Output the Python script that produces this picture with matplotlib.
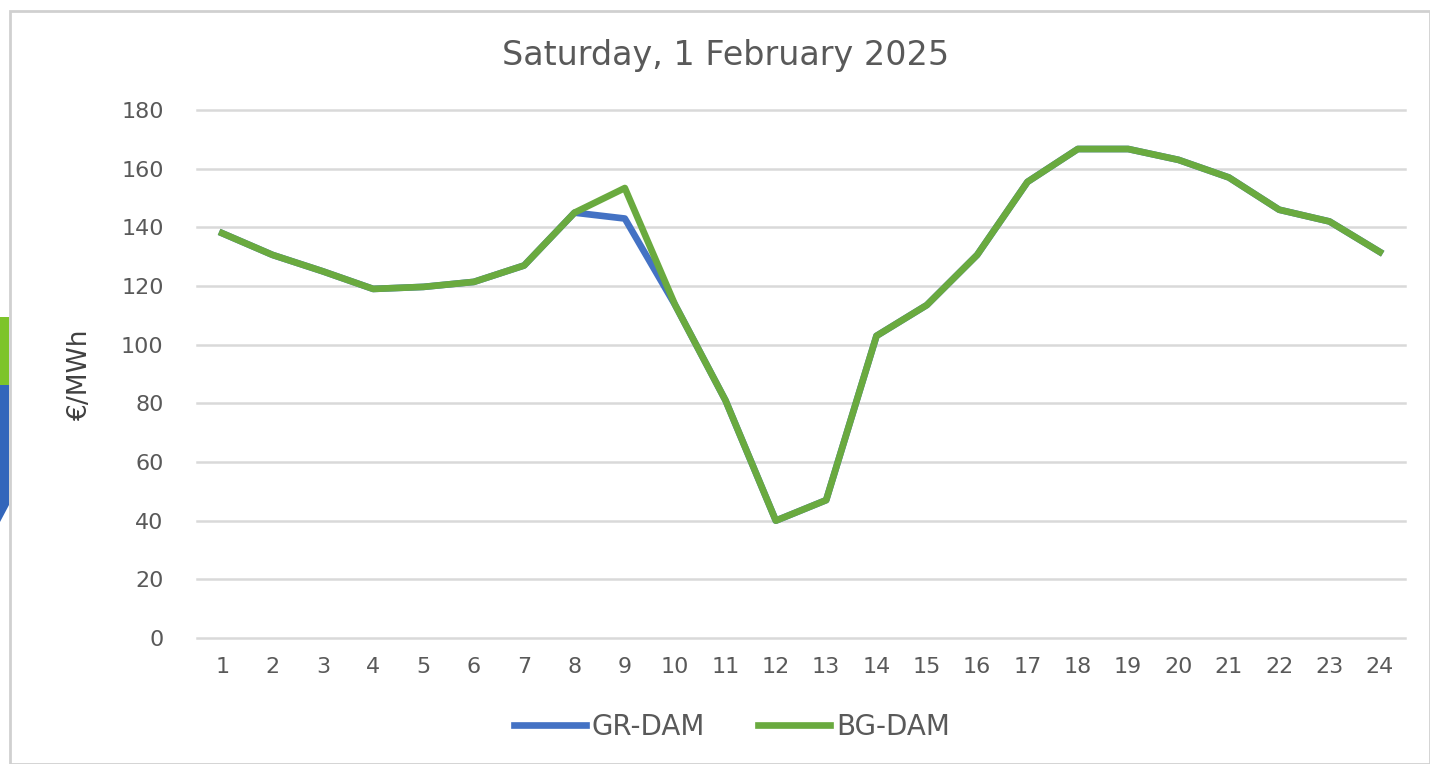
import matplotlib.pyplot as plt
from matplotlib.patches import Rectangle, Polygon

hours = list(range(1, 25))
gr_dam = [138, 130.6, 125, 119, 119.7, 121.4, 127, 145, 143, 113.5, 81, 40,
          47, 103, 113.5, 130.6, 155.5, 166.7, 166.7, 163, 157, 146, 142, 131.6]
bg_dam = [138, 130.6, 125, 119, 119.7, 121.4, 127, 145, 153.4, 113.5, 81, 40,
          47, 103, 113.5, 130.6, 155.5, 166.7, 166.7, 163, 157, 146, 142, 131.6]
y_ticks = list(range(0, 181, 20))

W, H = 1430, 764
fig = plt.figure(figsize=(W / 100, H / 100), dpi=100)
fig.patch.set_facecolor('white')

# frame and the slide decoration on the left
fig.patches.append(Rectangle((10 / W, 0), 1 - 10 / W, 1 - 11 / H, transform=fig.transFigure,
                             fill=False, edgecolor='#d0d0d0', linewidth=2))
fig.patches.append(Rectangle((0, 1 - 385 / H), 9 / W, 68 / H, transform=fig.transFigure,
                             facecolor='#7dc42a', edgecolor='none'))
fig.patches.append(Polygon([(0, 1 - 385 / H), (9 / W, 1 - 385 / H), (9 / W, 1 - 505 / H), (0, 1 - 522 / H)],
                           closed=True, transform=fig.transFigure, facecolor='#3366bb', edgecolor='none'))

ax = fig.add_axes([197 / W, 1 - 638 / H, (1405 - 197) / W, (638 - 110) / H])
ax.plot(hours, gr_dam, color='#4472C4', linewidth=4.8, label='GR-DAM', solid_joinstyle='round')
ax.plot(hours, bg_dam, color='#6aaa3f', linewidth=4.8, label='BG-DAM', solid_joinstyle='round')

ax.set_xlim(0.5, 24.5)
ax.set_ylim(0, 180)
ax.set_xticks(hours)
ax.set_yticks(y_ticks)
ax.grid(axis='y', color='#d9d9d9', linewidth=1.8)
for gl in ax.get_ygridlines():
    gl.set_clip_on(False)
ax.set_axisbelow(True)
for s in ax.spines.values():
    s.set_visible(False)
ax.tick_params(axis='both', length=0, labelsize=16, labelcolor='#595959', pad=14)
ax.tick_params(axis='y', pad=24)

ax.set_ylabel('€/MWh', fontsize=19, color='#404040', labelpad=20)
fig.text(726 / W, 1 - 55 / H, 'Saturday, 1 February 2025', ha='center', va='center',
         fontsize=24, color='#595959')

fig.legend(loc='center', bbox_to_anchor=(732 / W, 1 - 727 / H), ncol=2, frameon=False,
           fontsize=20, handlelength=2.6, handletextpad=0.2, columnspacing=1.9,
           labelcolor='#595959')

fig.savefig('out.png', dpi=100)
